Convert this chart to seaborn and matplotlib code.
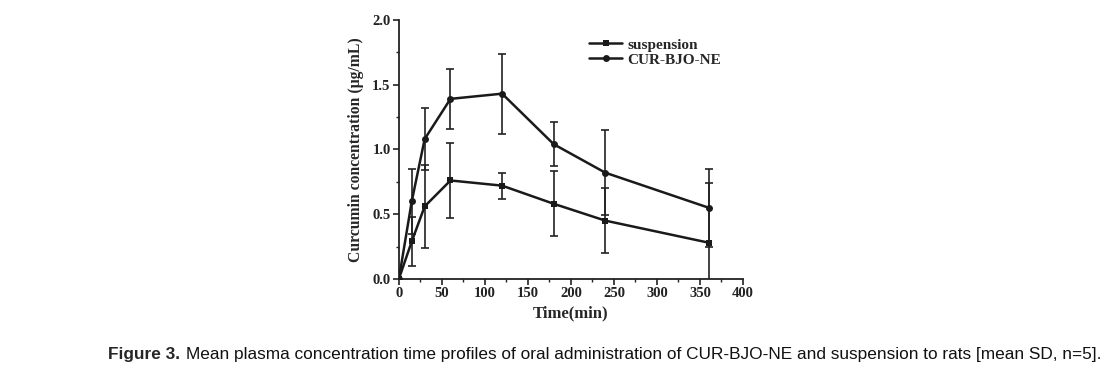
import numpy as np
import pandas as pd
import matplotlib
matplotlib.use("Agg")
import matplotlib.pyplot as plt
import seaborn as sns
from matplotlib.ticker import MultipleLocator

# datos
time_min = [0, 15, 30, 60, 120, 180, 240, 360]
susp_mean = [0.0, 0.29, 0.56, 0.76, 0.72, 0.58, 0.45, 0.28]
susp_sd = [0.0, 0.19, 0.32, 0.29, 0.10, 0.25, 0.25, 0.46]
ne_mean = [0.0, 0.60, 1.08, 1.39, 1.43, 1.04, 0.82, 0.55]
ne_sd = [0.0, 0.25, 0.24, 0.23, 0.31, 0.17, 0.33, 0.30]
series_names = ["suspension", "CUR-BJO-NE"]

df = pd.concat([
    pd.DataFrame({"Time": time_min, "Conc": susp_mean, "SD": susp_sd, "Group": series_names[0]}),
    pd.DataFrame({"Time": time_min, "Conc": ne_mean, "SD": ne_sd, "Group": series_names[1]}),
])

sns.set_style("ticks")
plt.rcParams["font.family"] = ["Liberation Serif", "DejaVu Serif"]

fig = plt.figure(figsize=(11.08, 3.89), dpi=100)
ax = fig.add_axes([0.360, 0.283, 0.3105, 0.666])

markers = {"suspension": "s", "CUR-BJO-NE": "o"}
for name in series_names:
    sub = df[df["Group"] == name]
    ax.errorbar(sub["Time"], sub["Conc"], yerr=sub["SD"], fmt="none",
                ecolor="#222222", elinewidth=1.2, capsize=3, capthick=1.2, zorder=2)
    sns.lineplot(data=sub, x="Time", y="Conc", ax=ax, color="#1a1a1a",
                 marker=markers[name], markersize=5, markeredgewidth=0,
                 linewidth=1.8, label=name, zorder=3)

ax.set_xlim(0, 400)
ax.set_ylim(0, 2.0)
ax.xaxis.set_major_locator(MultipleLocator(50))
ax.xaxis.set_minor_locator(MultipleLocator(25))
ax.yaxis.set_major_locator(MultipleLocator(0.5))
ax.yaxis.set_minor_locator(MultipleLocator(0.25))
ax.yaxis.set_major_formatter(matplotlib.ticker.FormatStrFormatter("%.1f"))
sns.despine(ax=ax)
for s in ["left", "bottom"]:
    ax.spines[s].set_linewidth(1.3)
    ax.spines[s].set_color("#222222")
ax.tick_params(axis="both", which="major", direction="out", length=4, width=1.2,
               labelsize=10.5, pad=2, colors="#222222")
ax.tick_params(axis="both", which="minor", direction="out", length=2.5, width=1.0,
               colors="#222222")
for lbl in ax.get_xticklabels() + ax.get_yticklabels():
    lbl.set_fontweight("bold")

ax.set_xlabel("Time(min)", fontsize=12, fontweight="bold", labelpad=4)
ax.set_ylabel("Curcumin concentration (μg/mL)", fontsize=11.3, fontweight="bold", labelpad=6)

leg = ax.legend(loc="upper left", bbox_to_anchor=(0.53, 0.96), frameon=False,
                prop={"weight": "bold", "size": 11}, handlelength=2.2,
                handletextpad=0.3, labelspacing=0.1, borderpad=0)

fig.text(0.0975, 0.088, "Figure 3.", fontsize=12.4, fontweight="bold",
         family=["Liberation Sans", "DejaVu Sans"], ha="left", va="center")
fig.text(0.168, 0.088,
         "Mean plasma concentration time profiles of oral administration of CUR-BJO-NE and suspension to rats [mean SD, n=5].",
         fontsize=12.4, family=["Liberation Sans", "DejaVu Sans"], ha="left", va="center",
         color="#111111")

fig.savefig("out.png", dpi=100)
